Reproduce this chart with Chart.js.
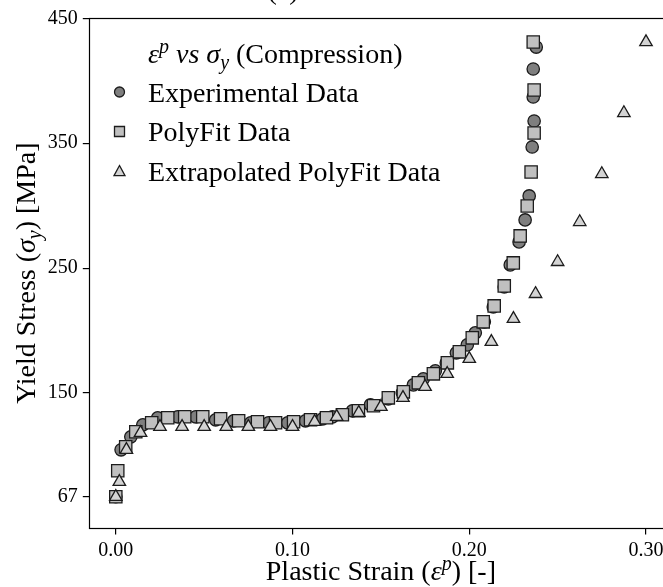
<!DOCTYPE html>
<html>
<head>
<meta charset="utf-8">
<script src="https://cdn.jsdelivr.net/npm/chart.js@4.4.0/dist/chart.umd.min.js"></script>
<style>
  html, body { margin: 0; padding: 0; background: #fff; overflow: hidden; }
  #wrap { position: relative; width: 663px; height: 587px; overflow: hidden; }
  #stressChart { position: absolute; left: 0; top: 0; }
</style>
</head>
<body>
<div id="wrap"><canvas id="stressChart" width="690" height="587"></canvas></div>
<script>
// ---------- Data: plastic strain [-] vs yield stress [MPa] ----------
const expStrain = [0.000, 0.003, 0.0085, 0.0153, 0.0237, 0.035, 0.0452, 0.0565, 0.0667, 0.0763,
  0.0864, 0.0972, 0.1073, 0.117, 0.1226, 0.1339, 0.1441, 0.1542, 0.1621, 0.1684,
  0.174, 0.1808, 0.187, 0.1927, 0.1989, 0.2034, 0.2085, 0.2136, 0.2198, 0.2232,
  0.2282, 0.2316, 0.2339, 0.2356, 0.2367, 0.2362, 0.2362, 0.2379];
const expStress = [67, 104.6, 115, 124.6, 130.2, 131, 131, 128.6, 127.8, 126.2,
  126.2, 126.2, 127.8, 129.4, 131, 135.8, 140.6, 145.4, 150.2, 156.6,
  161.4, 167.8, 174.2, 182.2, 188.6, 198.2, 207, 219, 235, 252.6,
  271, 288.6, 307.8, 347, 367.8, 387, 409.4, 427];

const fitStrain = [0.000, 0.0011, 0.0056, 0.0113, 0.0203, 0.0294, 0.039, 0.0492, 0.0593, 0.0695,
  0.0802, 0.0904, 0.1006, 0.1102, 0.1192, 0.1282, 0.1373, 0.1458, 0.1542, 0.1627,
  0.1712, 0.1797, 0.1876, 0.1944, 0.2017, 0.2079, 0.2141, 0.2198, 0.2249, 0.2288,
  0.2328, 0.235, 0.2367, 0.2367, 0.2362];
const fitStress = [67, 87.8, 107, 119, 126.2, 130.2, 131, 131, 129.4, 127.8,
  127, 126.2, 127, 128.6, 130.2, 132.6, 135.8, 139.8, 146.2, 151,
  158.2, 165.4, 174.2, 183, 194.2, 207, 219.8, 235.8, 254.2, 275.8,
  299.8, 327, 358.2, 392.6, 431];

const extStrain = [0.000, 0.002, 0.006, 0.014, 0.025, 0.0375, 0.05, 0.0625, 0.075, 0.0875,
  0.1, 0.1125, 0.125, 0.1375, 0.15, 0.1625, 0.175, 0.1875, 0.2, 0.2125,
  0.225, 0.2375, 0.25, 0.2625, 0.275, 0.2875, 0.3];
const extStress = [67, 79, 104.6, 118.2, 123, 123, 123, 123, 123, 123,
  123, 127, 131, 134.2, 139, 146.2, 155, 165.4, 177.4, 191,
  209.4, 229.4, 255, 287, 325.4, 374.2, 431];

const xTicks = [0.0, 0.1, 0.2, 0.3];
const yTicks = [67, 150, 250, 350, 450];

const SERIF = '"Liberation Serif", "Times New Roman", serif';
const EDGE = '#1c1c1c';

const pts = (xs, ys) => xs.map((x, i) => ({ x, y: ys[i] }));

// ---------- mixed text (italic / super / subscript runs) ----------
function runFont(p, size) {
  const s = (p.sup || p.sub) ? Math.round(size * 0.7) : size;
  return (p.it ? 'italic ' : '') + s + 'px ' + SERIF;
}
function runWidth(ctx, parts, size) {
  let w = 0;
  parts.forEach(p => { ctx.font = runFont(p, size); w += ctx.measureText(p.t).width; });
  return w;
}
function drawRuns(ctx, parts, x, y, size, align) {
  let cx = align === 'center' ? x - runWidth(ctx, parts, size) / 2 : x;
  ctx.textAlign = 'left';
  ctx.textBaseline = 'alphabetic';
  parts.forEach(p => {
    ctx.font = runFont(p, size);
    const dy = p.sup ? -size * 0.36 : (p.sub ? size * 0.2 : 0);
    ctx.fillText(p.t, cx, y + dy);
    cx += ctx.measureText(p.t).width;
  });
}

function marker(ctx, kind, x, y, r) {
  ctx.beginPath();
  if (kind === 'circle') {
    ctx.arc(x, y, r, 0, Math.PI * 2);
    ctx.fillStyle = '#7f7f7f';
  } else if (kind === 'square') {
    ctx.rect(x - r, y - r, 2 * r, 2 * r);
    ctx.fillStyle = '#c0c0c0';
  } else {
    ctx.moveTo(x, y - r);
    ctx.lineTo(x + r, y + r * 0.85);
    ctx.lineTo(x - r, y + r * 0.85);
    ctx.closePath();
    ctx.fillStyle = '#d3d3d3';
  }
  ctx.fill();
  ctx.lineWidth = 1.3;
  ctx.strokeStyle = EDGE;
  ctx.stroke();
}

// frame, legend, axis titles
const decorations = {
  id: 'decorations',
  afterDraw(chart) {
    const { ctx, chartArea: a } = chart;
    ctx.save();
    ctx.strokeStyle = '#000';
    ctx.lineWidth = 1.2;
    ctx.strokeRect(Math.round(a.left) + 0.5, Math.round(a.top) + 0.5,
      Math.round(a.right - a.left), Math.round(a.bottom - a.top));

    ctx.fillStyle = '#000';
    drawRuns(ctx, [{ t: '(a)' }], 283, -1, 28, 'center');

    // legend
    drawRuns(ctx, [
      { t: 'ε', it: true }, { t: 'p', it: true, sup: true }, { t: ' vs ', it: true },
      { t: 'σ', it: true }, { t: 'y', it: true, sub: true }, { t: ' (Compression)' }
    ], 148, 63, 28, 'left');
    const rows = [['circle', 'Experimental Data', 92], ['square', 'PolyFit Data', 131.5], ['triangle', 'Extrapolated PolyFit Data', 171]];
    rows.forEach(([k, label, y]) => {
      marker(ctx, k, 119.5, y, k === 'triangle' ? 5.5 : 5);
      ctx.fillStyle = '#000';
      drawRuns(ctx, [{ t: label }], 148, y + 9.5, 28, 'left');
    });

    // axis titles
    drawRuns(ctx, [{ t: 'Plastic Strain (' }, { t: 'ε', it: true }, { t: 'p', it: true, sup: true }, { t: ') [-]' }],
      (a.left + a.right) / 2, 580, 28, 'center');
    ctx.translate(35, (a.top + a.bottom) / 2);
    ctx.rotate(-Math.PI / 2);
    drawRuns(ctx, [{ t: 'Yield Stress (' }, { t: 'σ', it: true }, { t: 'y', it: true, sub: true }, { t: ') [MPa]' }],
      0, 0, 28, 'center');
    ctx.restore();
  }
};

const ctx = document.getElementById('stressChart').getContext('2d');

new Chart(ctx, {
  type: 'scatter',
  data: {
    datasets: [
      {
        label: 'Experimental Data',
        data: pts(expStrain, expStress),
        pointStyle: 'circle',
        pointRadius: 6.2,
        backgroundColor: '#7f7f7f',
        borderColor: EDGE,
        borderWidth: 1.3,
        order: 3
      },
      {
        label: 'PolyFit Data',
        data: pts(fitStrain, fitStress),
        pointStyle: 'rect',
        pointRadius: 8.7,
        backgroundColor: '#c0c0c0',
        borderColor: EDGE,
        borderWidth: 1.3,
        order: 2
      },
      {
        label: 'Extrapolated PolyFit Data',
        data: pts(extStrain, extStress),
        pointStyle: 'triangle',
        pointRadius: 7.2,
        backgroundColor: '#d3d3d3',
        borderColor: EDGE,
        borderWidth: 1.3,
        order: 1
      }
    ]
  },
  options: {
    responsive: false,
    animation: false,
    events: [],
    layout: { padding: { left: 0, top: 18.3, right: 17.5, bottom: 0 } },
    plugins: { legend: { display: false }, tooltip: { enabled: false } },
    scales: {
      x: {
        type: 'linear',
        min: -0.015,
        max: 0.315,
        afterBuildTicks: s => { s.ticks = xTicks.map(v => ({ value: v })); },
        afterFit: s => { s.height = 59; },
        grid: { drawOnChartArea: false, drawTicks: true, tickLength: 6.5, color: '#000', lineWidth: 1.2 },
        border: { display: false },
        ticks: {
          color: '#000',
          padding: 4,
          font: { family: SERIF, size: 20 },
          callback: v => v.toFixed(2)
        }
      },
      y: {
        min: 42,
        max: 450,
        afterBuildTicks: s => { s.ticks = yTicks.map(v => ({ value: v })); },
        afterFit: s => { s.width = 89.3; },
        grid: { drawOnChartArea: false, drawTicks: true, tickLength: 6.5, color: '#000', lineWidth: 1.2 },
        border: { display: false },
        ticks: {
          color: '#000',
          padding: 5,
          font: { family: SERIF, size: 20 },
          callback: v => String(v)
        }
      }
    }
  },
  plugins: [decorations]
});
</script>
</body>
</html>
